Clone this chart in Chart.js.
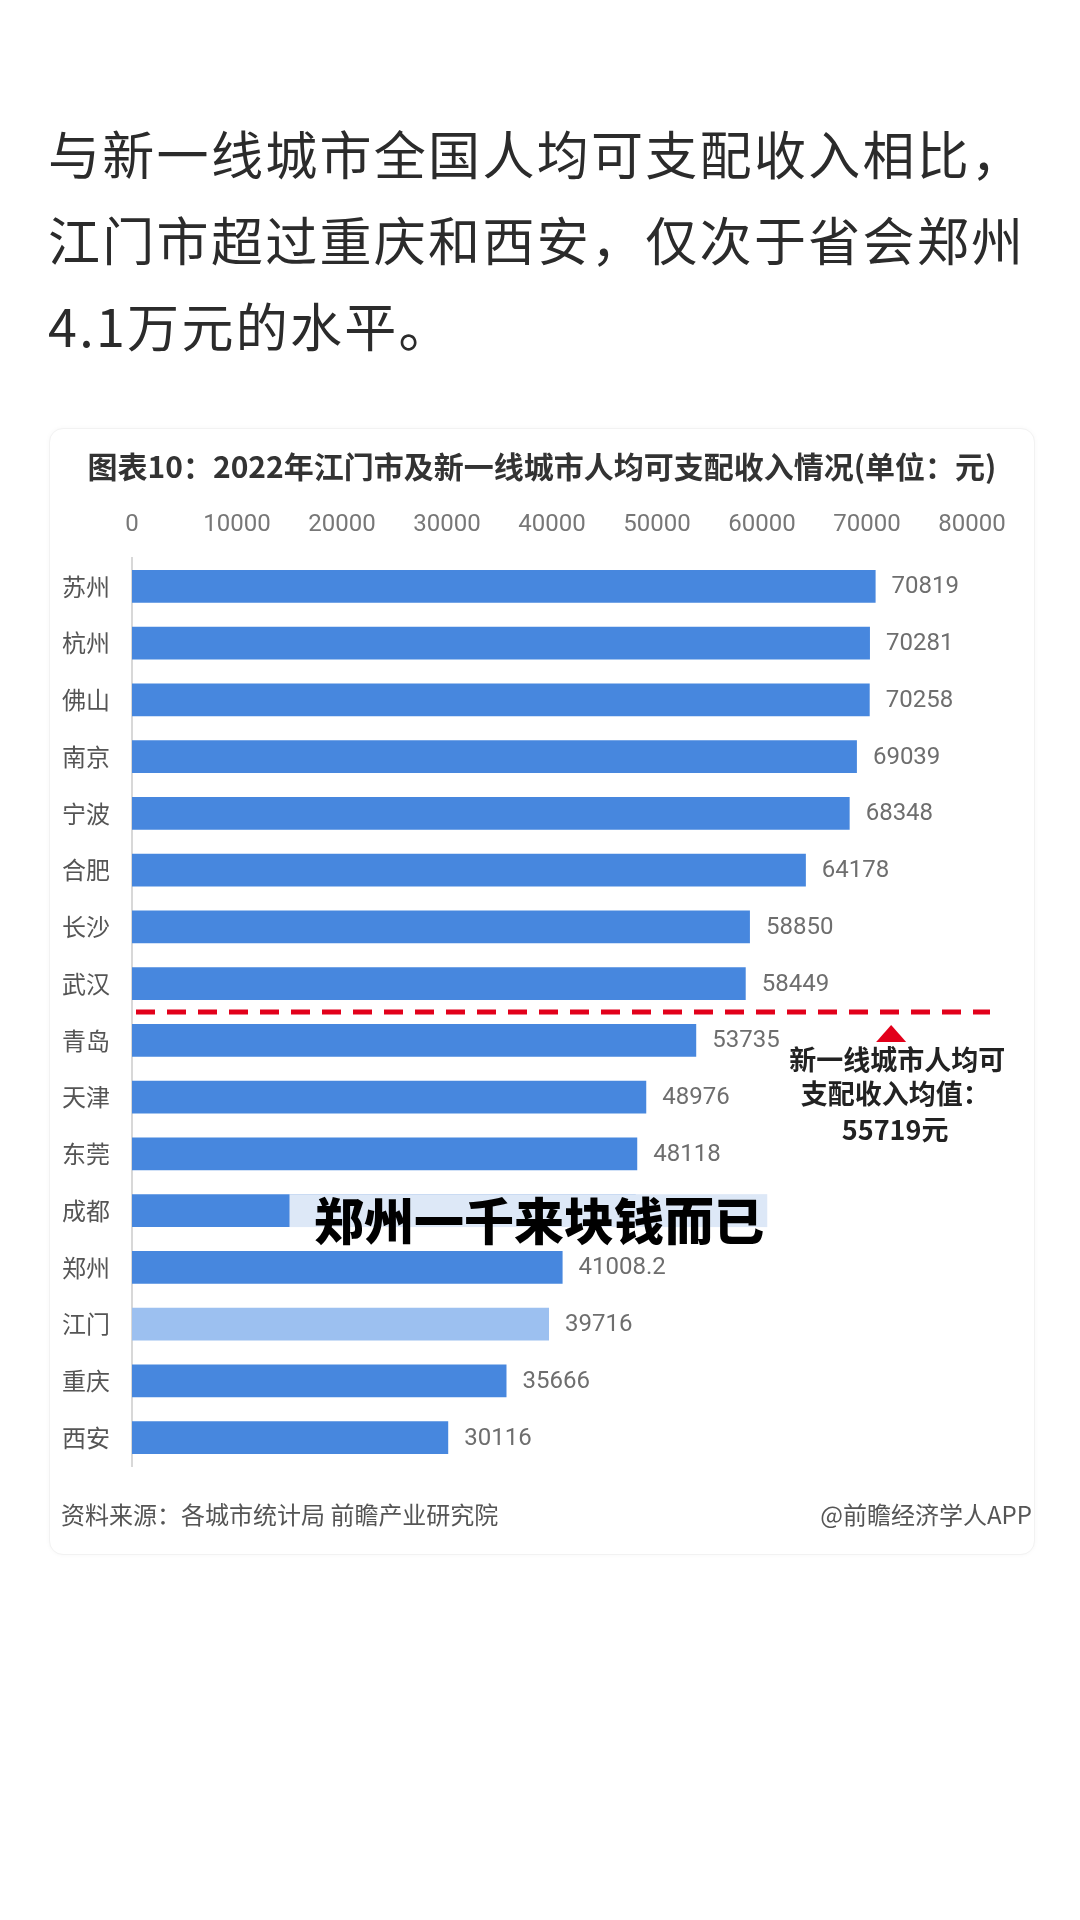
<!DOCTYPE html>
<html>
<head>
<meta charset="utf-8">
<script src="https://cdn.jsdelivr.net/npm/chart.js@4.4.1/dist/chart.umd.min.js"></script>
<style>
  html,body{margin:0;padding:0;background:#fff;}
  body{width:1080px;height:1920px;position:relative;overflow:hidden;font-family:"Noto Sans CJK SC","Noto Sans",sans-serif;}
  #para{position:absolute;left:48px;top:110px;width:1020px;font-size:52px;line-height:86px;color:#2b2b2b;letter-spacing:2.3px;}
  #card{position:absolute;left:49px;top:428px;width:984px;height:1125px;border:1px solid #f2f2f2;border-radius:14px;box-shadow:0 0 5px rgba(0,0,0,0.03);background:#fff;z-index:0;}
  #ctitle{position:absolute;left:49px;top:445px;width:986px;text-align:center;font-size:30px;line-height:40px;font-weight:700;color:#333;z-index:2;white-space:nowrap;}
  #src{position:absolute;left:61px;top:1498px;font-size:24px;line-height:32px;color:#555;z-index:2;}
  #app{position:absolute;right:48px;top:1498px;font-size:24px;line-height:32px;color:#555;z-index:2;}
  #c{position:absolute;left:0;top:0;z-index:1;}
</style>
</head>
<body>
<div id="para">与新一线城市全国人均可支配收入相比，<br>江门市超过重庆和西安，仅次于省会郑州<br>4.1万元的水平。</div>
<div id="card"></div>
<div id="ctitle">图表10：2022年江门市及新一线城市人均可支配收入情况(单位：元)</div>
<canvas id="c" width="1080" height="1920"></canvas>
<div id="src">资料来源：各城市统计局 前瞻产业研究院</div>
<div id="app">@前瞻经济学人APP</div>
<script>
const categories = ['苏州','杭州','佛山','南京','宁波','合肥','长沙','武汉','青岛','天津','东莞','成都','郑州','江门','重庆','西安'];
const values = [70819,70281,70258,69039,68348,64178,58850,58449,53735,48976,48118,47981,41008.2,39716,35666,30116];
const xTicks = [0,10000,20000,30000,40000,50000,60000,70000,80000];
const highlightCity = '江门';
const meanValue = 55719;
const meanLabel = ['新一线城市人均可','支配收入均值：','55719元'];
const caption = '郑州一千来块钱而已';
const coveredCity = '成都';

const barBlue = '#4787de';
const barLight = '#9cc0f0';
const colors = categories.map(c => c === highlightCity ? barLight : barBlue);

const overlayPlugin = {
  id: 'overlay',
  afterDatasetsDraw(chart) {
    const ctx = chart.ctx;
    const xs = chart.scales.x;
    const meta = chart.getDatasetMeta(0);
    ctx.save();
    // value labels
    ctx.font = '24px Roboto';
    ctx.fillStyle = '#6e6e6e';
    ctx.textBaseline = 'middle';
    ctx.textAlign = 'left';
    meta.data.forEach((bar, i) => {
      ctx.fillText(String(values[i]), bar.x + 16, bar.y + 1);
    });
    // cover box on one bar
    const ci = categories.indexOf(coveredCity);
    const cb = meta.data[ci];
    const x0 = xs.getPixelForValue(15000), x1 = xs.getPixelForValue(60500);
    ctx.fillStyle = '#dde8f7';
    ctx.fillRect(x0, cb.y - cb.height / 2, x1 - x0, cb.height);
    // mean line between categories
    const idx = values.findIndex(v => v < meanValue);
    const yLine = (meta.data[idx - 1].y + meta.data[idx].y) / 2;
    ctx.strokeStyle = '#e2001a';
    ctx.lineWidth = 5;
    ctx.setLineDash([19, 12]);
    ctx.beginPath();
    ctx.moveTo(xs.left + 4, yLine);
    ctx.lineTo(xs.right + 18, yLine);
    ctx.stroke();
    ctx.setLineDash([]);
    // triangle marker
    const tx = xs.getPixelForValue(72300);
    ctx.fillStyle = '#e2001a';
    ctx.beginPath();
    ctx.moveTo(tx, yLine + 13);
    ctx.lineTo(tx + 15, yLine + 30);
    ctx.lineTo(tx - 15, yLine + 30);
    ctx.closePath();
    ctx.fill();
    // annotation text
    ctx.font = 'bold 27px "Noto Sans CJK SC"';
    ctx.fillStyle = '#222';
    ctx.textAlign = 'center';
    ctx.fillText(meanLabel[0], tx + 6, yLine + 48);
    ctx.fillText(meanLabel[1], tx + 4, yLine + 82);
    ctx.fillText(meanLabel[2], tx + 4, yLine + 118);
    // caption
    ctx.font = '900 50px "Noto Sans CJK SC"';
    ctx.fillStyle = '#000';
    ctx.textAlign = 'center';
    ctx.fillText(caption, 539, cb.y + 10);
    ctx.restore();
  }
};

new Chart(document.getElementById('c'), {
  type: 'bar',
  data: {
    labels: categories,
    datasets: [{
      data: values,
      backgroundColor: colors,
      borderWidth: 0,
      barPercentage: 0.58,
      categoryPercentage: 1.0
    }]
  },
  options: {
    indexAxis: 'y',
    responsive: false,
    animation: false,
    devicePixelRatio: 1,
    layout: { padding: { top: 500, bottom: 454, left: 0, right: 108 } },
    plugins: { legend: { display: false }, tooltip: { enabled: false } },
    scales: {
      x: {
        position: 'top',
        min: 0, max: 80000,
        afterBuildTicks: s => { s.ticks = xTicks.map(v => ({ value: v })); },
        ticks: { font: { size: 24, family: 'Roboto' }, color: '#777', padding: 19, maxRotation: 0, autoSkip: false,
                 callback: v => String(v) },
        grid: { display: false, drawTicks: false },
        border: { display: false },
        afterFit: s => { s.height = 58; }
      },
      y: {
        ticks: { font: { size: 24, family: '"Noto Sans CJK SC"' }, color: '#555', padding: 22 },
        grid: { display: false, drawTicks: false },
        border: { display: true, color: '#d8d8d8', width: 2 },
        afterFit: s => { s.width = 132; }
      }
    }
  },
  plugins: [overlayPlugin]
});
</script>
</body>
</html>
